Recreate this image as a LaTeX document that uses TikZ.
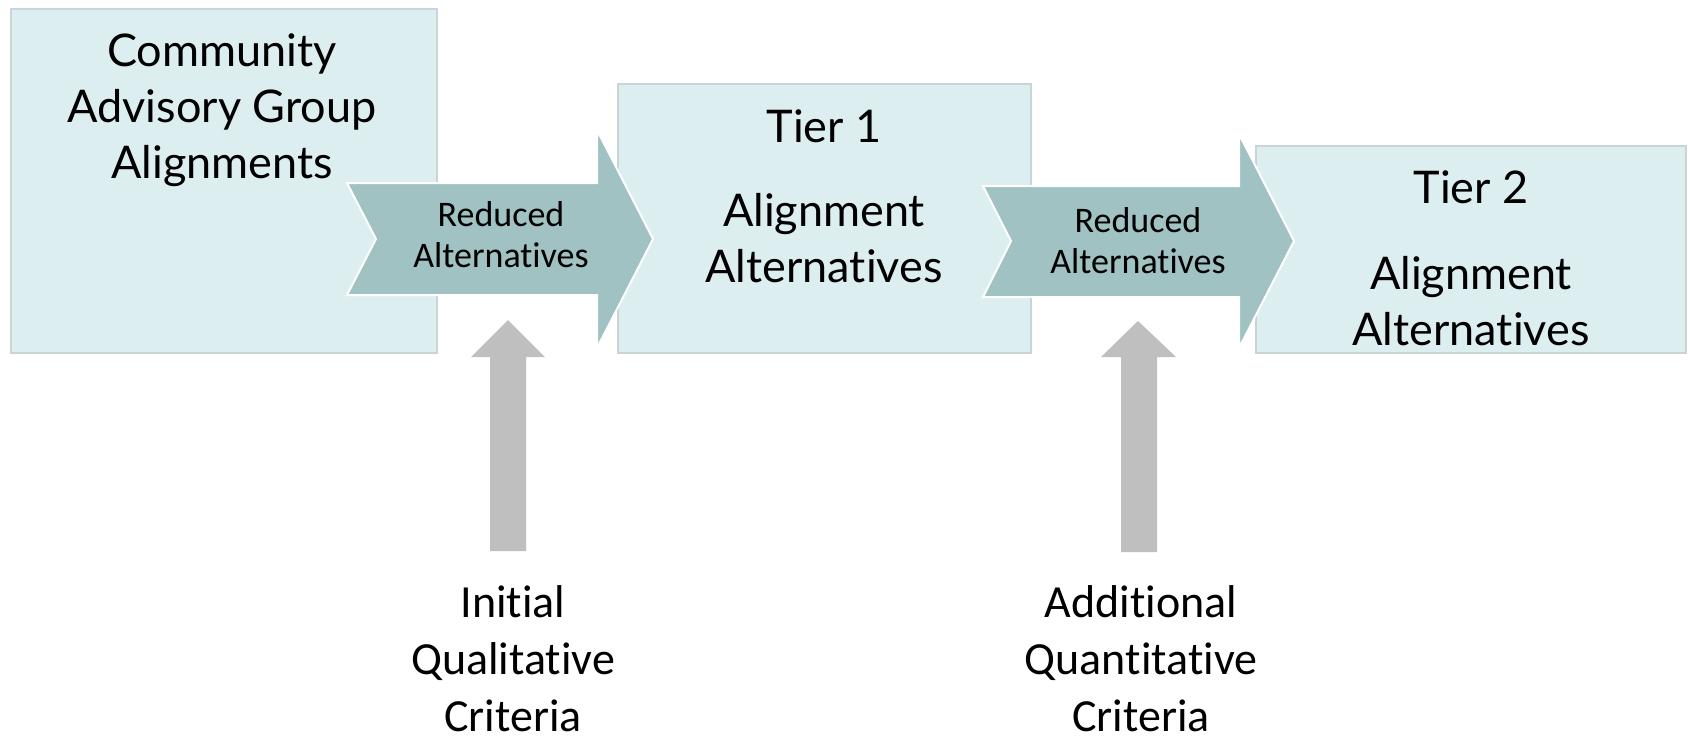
\documentclass[tikz,border=0pt]{standalone}
\usepackage{fontspec}
\newfontfamily\gillfont[Ligatures=NoCommon]{Lato}
\newfontfamily\califont[Ligatures=NoCommon]{Carlito}
\definecolor{boxfill}{RGB}{221,238,240}
\definecolor{boxline}{RGB}{200,212,214}
\definecolor{chevfill}{RGB}{160,194,195}
\definecolor{grayarrow}{RGB}{191,191,191}
\tikzset{
  stagebox/.style={fill=boxfill,draw=boxline,line width=1.2pt},
  chevron/.style={fill=chevfill,draw=white,line width=1pt},
  uparrow/.style={fill=grayarrow,draw=none},
  bigtext/.style={font=\gillfont\fontsize{22.5}{28}\selectfont,align=center,anchor=base,inner sep=0pt},
  chevtext/.style={font=\califont\fontsize{18}{20.5}\selectfont,align=center,anchor=base,inner sep=0pt},
  crittext/.style={font=\califont\fontsize{23}{28.5}\selectfont,align=center,anchor=base,inner sep=0pt}
}
\begin{document}
\begin{tikzpicture}[x=0.5pt,y=-0.5pt]
\useasboundingbox[fill=white] (0,0) rectangle (1692,740);
% boxes
\draw[stagebox] (11,9) rectangle (437,353);
\draw[stagebox] (618,84) rectangle (1031,353);
\draw[stagebox] (1256,146) rectangle (1686,353);
% chevrons
\draw[chevron] (347,183) -- (597,183) -- (597,130) -- (653,239) -- (597,348) -- (597,295) -- (347,295) -- (376,239) -- cycle;
\draw[chevron] (983,186) -- (1239,186) -- (1239,134) -- (1294,241) -- (1239,348) -- (1239,297) -- (983,297) -- (1011,241) -- cycle;
% gray up arrows
\fill[uparrow] (490,551) -- (490,357) -- (471,357) -- (508,320) -- (545,357) -- (526,357) -- (526,551) -- cycle;
\fill[uparrow] (1121,552) -- (1121,357) -- (1101,357) -- (1138,321) -- (1176,357) -- (1157,357) -- (1157,552) -- cycle;
% texts (anchor = baseline of last line)
\node[bigtext] (cag) at (222,178) {Community\\Advisory Group\\Alignments};
\node[bigtext] (t1) at (824,142) {Tier 1};
\node[bigtext] (t1a) at (824,282) {Alignment\\Alternatives};
\node[bigtext] (t2) at (1471,203) {Tier 2};
\node[bigtext] (t2a) at (1471,345) {Alignment\\Alternatives};
\node[chevtext] (r1) at (501,267) {Reduced\\Alternatives};
\node[chevtext] (r2) at (1138,273) {Reduced\\Alternatives};
\node[crittext] (c1) at (513,731) {Initial\\Qualitative\\Criteria};
\node[crittext] (c2) at (1141,731) {Additional\\Quantitative\\Criteria};
\end{tikzpicture}
\end{document}
